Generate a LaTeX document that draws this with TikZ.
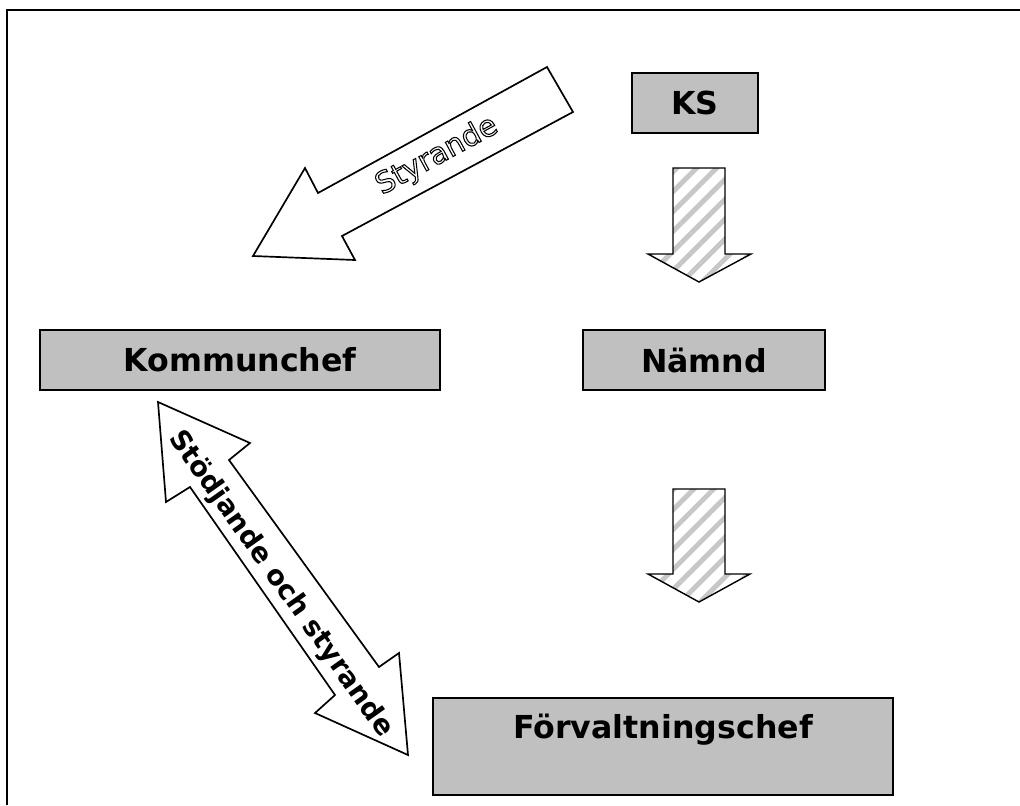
\documentclass[tikz,border=0pt]{standalone}
\usepackage{fontspec}
\setmainfont{DejaVu Sans}
\usetikzlibrary{patterns.meta}

\definecolor{boxgray}{RGB}{192,192,192}
\newcommand{\boxfont}{\fontsize{22.5}{26}\selectfont\bfseries}
\newcommand{\outlined}[1]{\special{pdf:literal direct 1 Tr 0.75 w}#1\special{pdf:literal direct 0 Tr}}

\begin{document}
\begin{tikzpicture}[x=0.025cm, y=-0.025cm,
  box/.style={draw, line width=0.9pt, fill=boxgray, font=\boxfont, inner sep=0pt, minimum height=1.5cm},
  hatcharrow/.style={draw, line width=1pt, line join=miter, pattern={Lines[angle=45,distance=10pt,line width=3.5pt]}, pattern color=black!22},
  blockarrow/.style={draw, line width=1.2pt, line join=miter, fill=white}]
\useasboundingbox (0,0) rectangle (1020,805);
% frame
\draw[line width=1.5pt] (7,805) -- (7,10) -- (1020,10);

% boxes
\node[box, minimum width=3.15cm] (ks) at (695,103) {KS};
\node[box, minimum width=10cm] (kommunchef) at (240,360) {Kommunchef};
\node[box, minimum width=6.05cm] (namnd) at (704,360) {Nämnd};
\node[box, minimum width=11.5cm, minimum height=2.425cm] (forv) at (663,746.5) {};
\node[font=\boxfont] (forvtext) at (663,730) {Förvaltningschef};

% hatched arrows
\draw[hatcharrow] (673,168) -- (725,168) -- (725,254) -- (751,254) -- (699,282) -- (648,254) -- (673,254) -- cycle;
\draw[hatcharrow] (673,489) -- (725,489) -- (725,574) -- (750,574) -- (699,602) -- (648,574) -- (673,574) -- cycle;

% double arrow
\draw[blockarrow] (158,402) -- (250,443) -- (229,460) -- (379,667) -- (399,653) -- (408,755)
  -- (315,713) -- (335,695) -- (190,487) -- (166,502) -- cycle;
\node[font=\fontsize{19.5}{21}\selectfont\bfseries, rotate=-54.7] (stod) at (281,584) {Stödjande och styrande};

% styrande arrow
\draw[blockarrow] (547,67) -- (573,112) -- (342,236) -- (355,260) -- (253,256) -- (305,168) -- (318,193) -- cycle;
\node[font=\fontsize{21}{23}\selectfont, rotate=28.5] (styr) at (437,156) {\outlined{Styrande}};
\end{tikzpicture}
\end{document}
